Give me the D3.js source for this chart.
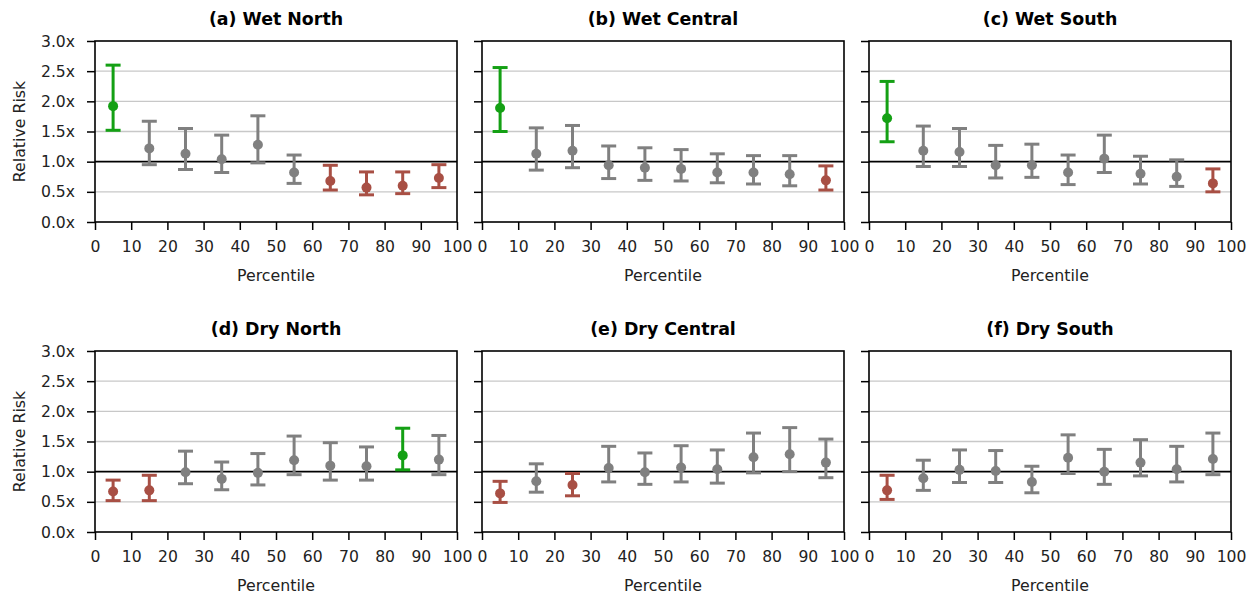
<!DOCTYPE html>
<meta charset="utf-8">
<head>
    <title>Relative risk by percentile</title>
</head>
<style>
    body { margin: 0; background: #fff; }
    text { font-family: "DejaVu Sans", sans-serif; fill: #222; }
    .title { font-weight: bold; font-size: 17.4px; fill: #000; }
</style>
<body>
    <svg width="1256" height="594"></svg>

    <script src="https://cdnjs.cloudflare.com/ajax/libs/d3/7.8.5/d3.min.js"></script>
    <script>
        // percentile bin centres
        var percentiles = [5, 15, 25, 35, 45, 55, 65, 75, 85, 95]
        var xTicks = [0, 10, 20, 30, 40, 50, 60, 70, 80, 90, 100]
        var yTicks = [0, 0.5, 1, 1.5, 2, 2.5, 3]
        var titles = ['(a) Wet North', '(b) Wet Central', '(c) Wet South',
                      '(d) Dry North', '(e) Dry Central', '(f) Dry South']

        // relative risk estimates and 95% interval, one array per panel
        var meanA = [1.92, 1.22, 1.13, 1.04, 1.28, 0.82, 0.68, 0.57, 0.60, 0.73]
        var lowA  = [1.52, 0.95, 0.87, 0.82, 0.98, 0.64, 0.53, 0.45, 0.47, 0.57]
        var highA = [2.60, 1.67, 1.55, 1.44, 1.76, 1.11, 0.94, 0.83, 0.83, 0.95]

        var meanB = [1.89, 1.13, 1.18, 0.94, 0.90, 0.88, 0.82, 0.82, 0.79, 0.69]
        var lowB  = [1.50, 0.86, 0.90, 0.72, 0.69, 0.68, 0.65, 0.63, 0.60, 0.53]
        var highB = [2.56, 1.56, 1.60, 1.26, 1.23, 1.20, 1.13, 1.10, 1.10, 0.93]

        var meanC = [1.72, 1.18, 1.16, 0.94, 0.94, 0.82, 1.05, 0.80, 0.75, 0.64]
        var lowC  = [1.33, 0.92, 0.92, 0.73, 0.74, 0.62, 0.82, 0.63, 0.59, 0.50]
        var highC = [2.33, 1.59, 1.55, 1.27, 1.29, 1.11, 1.44, 1.09, 1.03, 0.88]

        var meanD = [0.67, 0.69, 0.99, 0.88, 0.98, 1.19, 1.10, 1.09, 1.27, 1.20]
        var lowD  = [0.52, 0.52, 0.80, 0.70, 0.78, 0.95, 0.86, 0.86, 1.03, 0.95]
        var highD = [0.86, 0.94, 1.34, 1.16, 1.30, 1.59, 1.48, 1.41, 1.72, 1.60]

        var meanE = [0.64, 0.84, 0.78, 1.06, 0.99, 1.07, 1.04, 1.24, 1.29, 1.15]
        var lowE  = [0.49, 0.66, 0.60, 0.83, 0.79, 0.83, 0.81, 0.98, 1.00, 0.90]
        var highE = [0.84, 1.13, 0.97, 1.42, 1.31, 1.43, 1.36, 1.64, 1.73, 1.54]

        var meanF = [0.69, 0.89, 1.03, 1.01, 0.83, 1.23, 1.00, 1.15, 1.04, 1.21]
        var lowF  = [0.54, 0.69, 0.82, 0.82, 0.65, 0.97, 0.79, 0.93, 0.83, 0.95]
        var highF = [0.94, 1.19, 1.36, 1.35, 1.09, 1.61, 1.37, 1.53, 1.42, 1.64]

        var panels = [
            [meanA, lowA, highA], [meanB, lowB, highB], [meanC, lowC, highC],
            [meanD, lowD, highD], [meanE, lowE, highE], [meanF, lowF, highF]
        ]

        var colLeft = [95, 482, 869], plotW = 362
        var rowTop = [41, 351], plotH = 181

        var svg = d3.select('svg')

        // green = significantly above 1, red = significantly below 1
        function colourOf(lo, hi) {
            if (lo > 1) return '#14a014'
            if (hi < 1) return '#a84f44'
            return '#808080'
        }

        panels.forEach(function (p, i) {
            var col = i % 3, row = Math.floor(i / 3)
            var g = svg.append('g')
                .attr('transform', 'translate(' + colLeft[col] + ',' + rowTop[row] + ')')

            var x = d3.scaleLinear().domain([0, 100]).range([0, plotW])
            var y = d3.scaleLinear().domain([0, 3]).range([plotH, 0])

            // grid
            g.selectAll('.grid').data([0.5, 1.5, 2, 2.5]).enter()
                .append('line')
                .attr('x1', 0).attr('x2', plotW)
                .attr('y1', function (d) { return y(d) })
                .attr('y2', function (d) { return y(d) })
                .attr('stroke', '#c8c8c8').attr('stroke-width', 1.3)

            // reference line at 1.0x
            g.append('line')
                .attr('x1', 0).attr('x2', plotW)
                .attr('y1', y(1)).attr('y2', y(1))
                .attr('stroke', '#000').attr('stroke-width', 1.6)

            // axes
            var yAxis = d3.axisLeft(y).tickValues(yTicks).tickSize(8).tickPadding(12)
                .tickFormat(col === 0 ? function (d) { return d3.format('.1f')(d) + 'x' } : '')
            var ya = g.append('g').call(yAxis)
            ya.selectAll('text').style('font-size', '15.6px')

            var xAxis = d3.axisBottom(x).tickValues(xTicks).tickSize(8).tickPadding(11)
            var xa = g.append('g').attr('transform', 'translate(0,' + plotH + ')').call(xAxis)
            xa.selectAll('text').style('font-size', '15.6px')

            ;[ya, xa].forEach(function (a) {
                a.select('.domain').remove()
                a.selectAll('line').attr('stroke', '#000').attr('stroke-width', 1.5)
            })

            // frame
            g.append('rect')
                .attr('width', plotW).attr('height', plotH)
                .attr('fill', 'none').attr('stroke', '#000').attr('stroke-width', 1.6)

            // error bars
            var mean = p[0], low = p[1], high = p[2]
            var bars = g.selectAll('.bar').data(percentiles).enter()
                .append('g')
                .attr('stroke', function (d, j) { return colourOf(low[j], high[j]) })
                .attr('fill', function (d, j) { return colourOf(low[j], high[j]) })
                .attr('stroke-width', 3)

            bars.append('line')
                .attr('x1', function (d) { return x(d) }).attr('x2', function (d) { return x(d) })
                .attr('y1', function (d, j) { return y(low[j]) })
                .attr('y2', function (d, j) { return y(high[j]) })
            bars.append('line')
                .attr('x1', function (d) { return x(d) - 7.5 }).attr('x2', function (d) { return x(d) + 7.5 })
                .attr('y1', function (d, j) { return y(low[j]) })
                .attr('y2', function (d, j) { return y(low[j]) })
            bars.append('line')
                .attr('x1', function (d) { return x(d) - 7.5 }).attr('x2', function (d) { return x(d) + 7.5 })
                .attr('y1', function (d, j) { return y(high[j]) })
                .attr('y2', function (d, j) { return y(high[j]) })
            bars.append('circle')
                .attr('cx', function (d) { return x(d) })
                .attr('cy', function (d, j) { return y(mean[j]) })
                .attr('r', 5).attr('stroke', 'none')

            // labels
            g.append('text').attr('class', 'title')
                .attr('x', plotW / 2).attr('y', -16)
                .attr('text-anchor', 'middle').text(titles[i])

            g.append('text')
                .attr('x', plotW / 2).attr('y', plotH + 59)
                .attr('text-anchor', 'middle').style('font-size', '15.8px')
                .text('Percentile')

            if (col === 0) {
                g.append('text')
                    .attr('transform', 'translate(' + (-70) + ',' + (plotH / 2) + ') rotate(-90)')
                    .attr('text-anchor', 'middle').style('font-size', '15.8px')
                    .text('Relative Risk')
            }
        })
    </script>
</body>
</html>
